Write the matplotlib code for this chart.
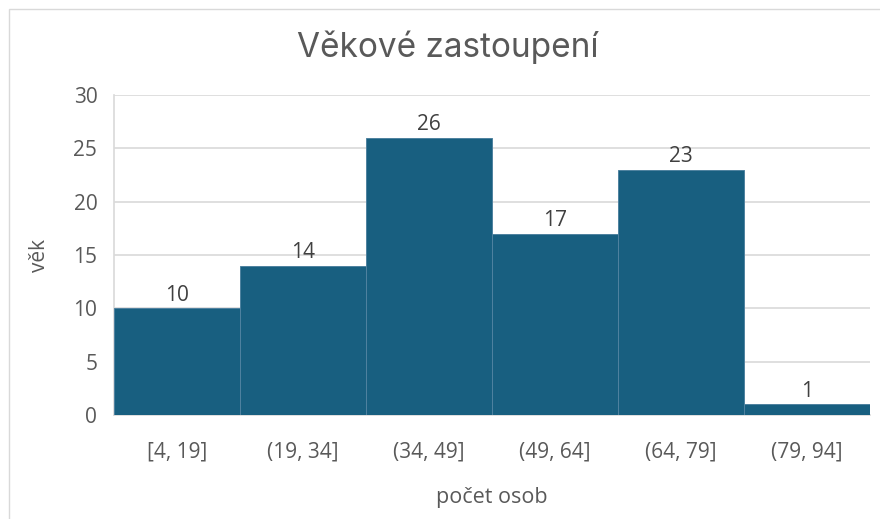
import matplotlib
matplotlib.use('Agg')
import matplotlib.pyplot as plt
from matplotlib import font_manager
from matplotlib.patches import Rectangle

# age bins and counts
bins = ["[4, 19]", "(19, 34]", "(34, 49]", "(49, 64]", "(64, 79]", "(79, 94]"]
counts = [10, 14, 26, 17, 23, 1]
yticks = [0, 5, 10, 15, 20, 25, 30]

names = {f.name for f in font_manager.fontManager.ttflist}
title_font = "Inter" if "Inter" in names else "Roboto"
body_font = "Open Sans" if "Open Sans" in names else "DejaVu Sans"

txt = "#595959"
grid = "#d9d9d9"
bar_col = "#185f80"

fig = plt.figure(figsize=(8.8, 5.19), dpi=100)
fig.patches.append(Rectangle((9 / 880, -0.1), 1.2, 1 - 9 / 519 + 0.1, transform=fig.transFigure,
                             fill=False, edgecolor="#d9d9d9", linewidth=1.0))
ax = fig.add_axes([114 / 880, 1 - 415 / 519, 756 / 880, 320 / 519])

x = list(range(len(bins)))
ax.bar(x, counts, width=1.0, color=bar_col, edgecolor="#4f82a0", linewidth=0.7, zorder=3)
for xi, c in zip(x, counts):
    ax.text(xi, c + 0.25, str(c), ha="center", va="bottom", fontsize=15, color="#404040",
            family=body_font, zorder=4)

ax.set_xlim(-0.5, len(bins) - 0.5)
ax.set_ylim(0, 30)
ax.set_yticks(yticks)
ax.set_yticklabels([str(v) for v in yticks], fontsize=15, color=txt, family=body_font)
ax.set_xticks(x)
ax.set_xticklabels(bins, fontsize=15, color=txt, family=body_font)
ax.tick_params(axis="both", length=0)
ax.tick_params(axis="x", pad=19)
ax.tick_params(axis="y", pad=12)
ax.yaxis.grid(True, color=grid, linewidth=1.2, zorder=0)
for s in ["top", "right"]:
    ax.spines[s].set_visible(False)
ax.spines["left"].set_color(grid)
ax.spines["left"].set_linewidth(1.2)
ax.spines["bottom"].set_color(grid)
ax.spines["bottom"].set_linewidth(1.2)

ax.set_ylabel("věk", fontsize=15, color=txt, family=body_font, labelpad=17)
ax.set_xlabel("počet osob", fontsize=15.5, color=txt, family=body_font, labelpad=18)
fig.text(448 / 880, 1 - 47 / 519, "Věkové zastoupení", ha="center", va="center",
         fontsize=24, color=txt, family=title_font)

fig.savefig("out.png", dpi=100)
